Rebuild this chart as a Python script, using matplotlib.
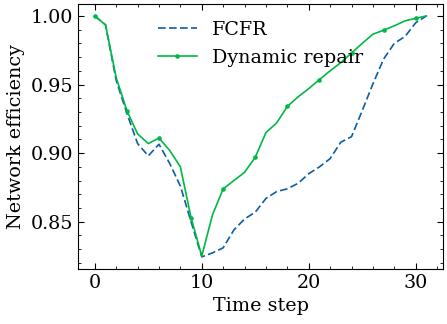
import numpy as np
import matplotlib.pyplot as plt

# values
steps = np.arange(32)
fcfr = [1.000, 0.9935, 0.953, 0.929, 0.907, 0.898, 0.9065, 0.8925, 0.876, 0.850,
        0.8244, 0.8273, 0.831, 0.844, 0.852, 0.857, 0.867, 0.872, 0.874, 0.878,
        0.885, 0.890, 0.896, 0.908, 0.912, 0.931, 0.9505, 0.9686, 0.980, 0.985,
        0.995, 1.000]
dyn = [1.000, 0.9935, 0.955, 0.931, 0.914, 0.907, 0.911, 0.902, 0.890, 0.853,
       0.825, 0.855, 0.874, 0.880, 0.886, 0.897, 0.915, 0.922, 0.934, 0.941,
       0.947, 0.9536, 0.960, 0.966, 0.973, 0.980, 0.9867, 0.9896, 0.9928, 0.9964,
       0.9983, 1.000]

plt.rcParams.update({
    "font.family": "serif",
    "font.serif": ["DejaVu Serif"],
    "font.size": 13.8,
    "axes.linewidth": 0.8,
    "xtick.direction": "in",
    "ytick.direction": "in",
    "xtick.top": True,
    "ytick.right": True,
    "xtick.minor.visible": True,
    "ytick.minor.visible": True,
    "xtick.major.size": 4,
    "ytick.major.size": 4,
    "xtick.minor.size": 2,
    "ytick.minor.size": 2,
})

fig, ax = plt.subplots(figsize=(4.47, 3.24), dpi=100)
fig.subplots_adjust(left=0.175, right=0.991, top=0.988, bottom=0.17)

ax.plot(steps, fcfr, "--", color="#0C5DA5", lw=1.2, dashes=(4.6, 2.0), label="FCFR")
ax.plot(steps, dyn, "-", color="#00B945", lw=1.2, marker="o", ms=2.3,
        markevery=3, label="Dynamic repair")

ax.set_xlabel("Time step")
ax.set_ylabel("Network efficiency")
ax.set_xticks([0, 10, 20, 30])
ax.set_yticks([0.85, 0.90, 0.95, 1.00])
ax.xaxis.set_minor_locator(plt.MultipleLocator(2))
ax.yaxis.set_minor_locator(plt.MultipleLocator(0.01))
ax.legend(loc="upper center", frameon=False)

fig.savefig("out.png")
